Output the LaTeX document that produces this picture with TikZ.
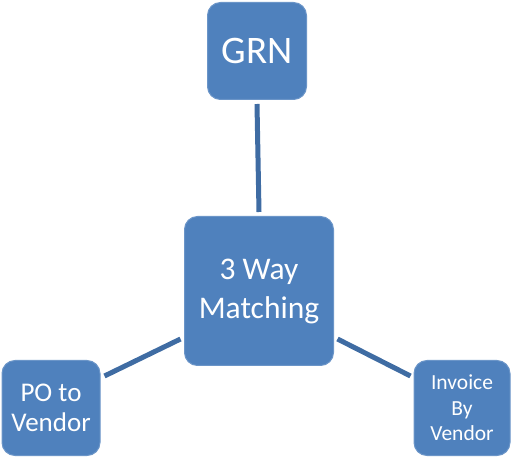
\documentclass[tikz,border=0pt]{standalone}
\usetikzlibrary{calc}
\usepackage{fontspec}
\setmainfont{Carlito}
\definecolor{boxfill}{HTML}{4F81BD}
\definecolor{boxedge}{HTML}{6B95C8}
\definecolor{linkcol}{HTML}{3F6CA3}
\begin{document}
\begin{tikzpicture}[x=1pt,y=-1pt,
  box/.style={draw=boxedge,line width=1pt,fill=boxfill,rounded corners=13pt,text=white,align=center,inner sep=0pt},
  link/.style={draw=linkcol,line width=5pt}]
\useasboundingbox (0,0) rectangle (512,457);
\node[box,minimum width=99pt,minimum height=97pt,font=\fontsize{39}{40}\selectfont] (grn) at (257,51) {GRN};
\node[box,minimum width=149pt,minimum height=149pt,font=\fontsize{31.5}{39}\selectfont] (mid) at (259,291) {3 Way\\Matching};
\node[box,minimum width=98pt,minimum height=95pt,font=\fontsize{27}{30}\selectfont] (po) at (51,408) {PO to\\Vendor};
\node[box,minimum width=96pt,minimum height=95pt,font=\fontsize{21.5}{25.5}\selectfont] (inv) at (462,408) {Invoice\\By\\Vendor};
\draw[link] ([yshift=-4pt]grn.south) -- ([yshift=4pt]mid.north);
\draw[link] ($(po.north east)+(4,16)$) -- ($(mid.west)+(-3.5,48)$);
\draw[link] ($(mid.east)+(3.5,48)$) -- ($(inv.north west)+(-3,16)$);
\end{tikzpicture}
\end{document}
